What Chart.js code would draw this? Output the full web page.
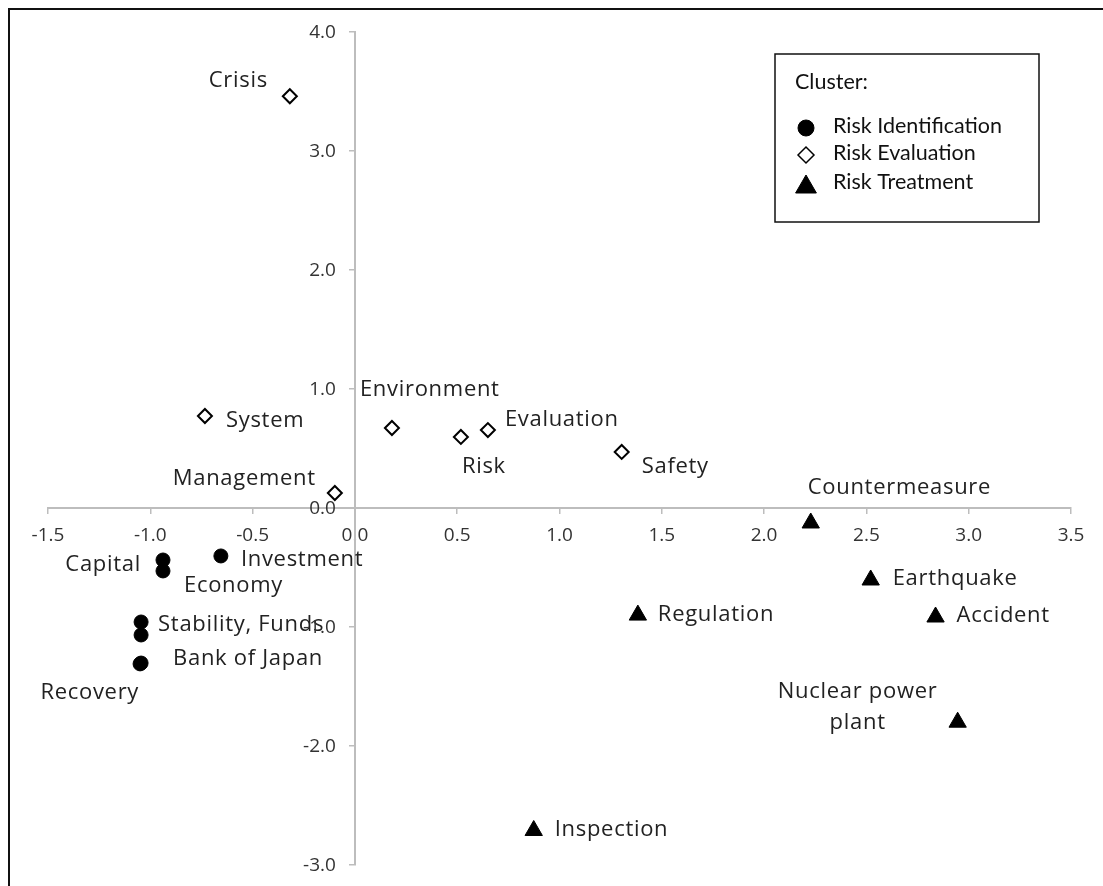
<!DOCTYPE html>
<html>
<head>
<meta charset="utf-8">
<script src="https://cdn.jsdelivr.net/npm/chart.js@4.4.1/dist/chart.umd.min.js"></script>
<style>
  html, body { margin: 0; padding: 0; background: #fff; }
  #wrap { position: relative; width: 1103px; height: 886px; }
  #frame { position: absolute; left: 8px; top: 8px; right: -10px; bottom: -10px; border-left: 2px solid #111; border-top: 2px solid #111; pointer-events: none; }
</style>
</head>
<body>
<div id="wrap">
  <canvas id="chart" width="1103" height="886"></canvas>
  <div id="frame"></div>
</div>
<script>
// cluster: Risk Identification
const idLabels = ["Investment", "Capital", "Economy", "Stability, Funds", "Funds", "Bank of Japan", "Recovery"];
const idX = [-0.655, -0.938, -0.938, -1.045, -1.045, -1.045, -1.050];
const idY = [-0.403, -0.437, -0.529, -0.958, -1.067, -1.303, -1.310];

// cluster: Risk Evaluation
const evLabels = ["Crisis", "System", "Management", "Environment", "Risk", "Evaluation", "Safety"];
const evX = [-0.318, -0.733, -0.098, 0.181, 0.518, 0.650, 1.304];
const evY = [3.46, 0.773, 0.126, 0.672, 0.597, 0.655, 0.471];

// cluster: Risk Treatment
const trLabels = ["Countermeasure", "Earthquake", "Accident", "Nuclear power plant", "Regulation", "Inspection"];
const trX = [2.228, 2.521, 2.838, 2.946, 1.383, 0.874];
const trY = [-0.126, -0.605, -0.916, -1.80, -0.90, -2.71];

const clusterNames = ["Risk Identification", "Risk Evaluation", "Risk Treatment"];
const xTicks = [-1.5, -1.0, -0.5, 0.0, 0.5, 1.0, 1.5, 2.0, 2.5, 3.0, 3.5];
const yTicks = [-3.0, -2.0, -1.0, 0.0, 1.0, 2.0, 3.0, 4.0];

function toPoints(xs, ys) {
  return xs.map((x, i) => ({ x: x, y: ys[i] }));
}

// where each word sits next to its marker: [align, dx, dy]
const labelPos = {
  "Crisis": ["right", -22, -16],
  "System": ["left", 21, 5],
  "Management": ["right", -19, -14],
  "Environment": ["left", -32, -38],
  "Risk": ["left", 1, 30],
  "Evaluation": ["left", 17, -10],
  "Safety": ["left", 20, 15],
  "Investment": ["left", 20, 4],
  "Capital": ["right", -22, 5],
  "Economy": ["left", 21, 15],
  "Stability, Funds": ["left", 17, 3],
  "Bank of Japan": ["left", 32, -4],
  "Recovery": ["right", -1, 29],
  "Countermeasure": ["left", -3, -35],
  "Earthquake": ["left", 22, -1],
  "Accident": ["left", 21, -1],
  "Regulation": ["left", 20, 0],
  "Inspection": ["left", 21, -1],
  "Nuclear power plant": ["center", -100, -30]
};

const pointLabels = {
  id: "pointLabels",
  afterDatasetsDraw(chart) {
    const ctx = chart.ctx;
    ctx.save();
    ctx.font = "22px 'Open Sans'";
    ctx.letterSpacing = "0.7px";
    ctx.fillStyle = "#222";
    ctx.textBaseline = "middle";
    chart.data.datasets.forEach((ds, di) => {
      const meta = chart.getDatasetMeta(di);
      meta.data.forEach((pt, i) => {
        const name = ds.names[i];
        const pos = labelPos[name];
        if (!pos) return;
        ctx.textAlign = pos[0];
        if (name === "Nuclear power plant") {
          ctx.fillText("Nuclear power", pt.x + pos[1], pt.y + pos[2]);
          ctx.fillText("plant", pt.x + pos[1], pt.y + pos[2] + 31);
        } else {
          ctx.fillText(name, pt.x + pos[1], pt.y + pos[2]);
        }
      });
    });
    ctx.restore();
  }
};

// y tick labels sit left of the centred axis
const yTickLabels = {
  id: "yTickLabels",
  afterDraw(chart) {
    const ys = chart.scales.y, xs = chart.scales.x;
    const ctx = chart.ctx;
    const x0 = xs.getPixelForValue(0);
    ctx.save();
    ctx.font = "19px 'Open Sans'";
    ctx.fillStyle = "#333";
    ctx.textAlign = "right";
    ctx.textBaseline = "middle";
    yTicks.forEach(v => {
      ctx.fillText(v.toFixed(1), x0 - 19, ys.getPixelForValue(v) + 1);
    });
    ctx.restore();
  }
};

const clusterBox = {
  id: "clusterBox",
  afterDraw(chart) {
    const ctx = chart.ctx;
    ctx.save();
    ctx.fillStyle = "#fff";
    ctx.fillRect(775, 54, 264, 168);
    ctx.strokeStyle = "#111";
    ctx.lineWidth = 1.5;
    ctx.strokeRect(775, 54, 264, 168);
    ctx.fillStyle = "#111";
    ctx.font = "21.5px Lato";
    ctx.textAlign = "left";
    ctx.textBaseline = "middle";
    ctx.fillText("Cluster:", 795, 82);
    const ys = [128, 155, 184];
    const styles = [
      { pointStyle: "circle", radius: 8, borderWidth: 1 },
      { pointStyle: "rectRot", radius: 8, borderWidth: 1.5 },
      { pointStyle: "triangle", radius: 12, borderWidth: 1 }
    ];
    const fills = ["#000", "#fff", "#000"];
    clusterNames.forEach((nm, i) => {
      ctx.fillStyle = fills[i];
      ctx.strokeStyle = "#000";
      ctx.lineWidth = styles[i].borderWidth;
      Chart.helpers.drawPoint(ctx, styles[i], 806, ys[i] + (i === 2 ? 3 : 0));
      ctx.fillStyle = "#111";
      ctx.fillText(nm, 833, ys[i] - 2);
    });
    ctx.restore();
  }
};

new Chart(document.getElementById("chart").getContext("2d"), {
  type: "scatter",
  data: {
    datasets: [
      {
        label: clusterNames[0],
        names: idLabels,
        data: toPoints(idX, idY),
        pointStyle: "circle",
        pointRadius: 7,
        backgroundColor: "#000",
        borderColor: "#000",
        borderWidth: 1
      },
      {
        label: clusterNames[1],
        names: evLabels,
        data: toPoints(evX, evY),
        pointStyle: "rectRot",
        pointRadius: 7,
        backgroundColor: "#fff",
        borderColor: "#000",
        borderWidth: 2
      },
      {
        label: clusterNames[2],
        names: trLabels,
        data: toPoints(trX, trY),
        pointStyle: "triangle",
        pointRadius: 10,
        backgroundColor: "#000",
        borderColor: "#000",
        borderWidth: 1
      }
    ]
  },
  options: {
    responsive: false,
    animation: false,
    layout: { padding: { left: 48, right: 32, top: 32, bottom: 21 } },
    plugins: {
      legend: { display: false },
      tooltip: { enabled: false }
    },
    scales: {
      x: {
        type: "linear",
        position: { y: 0 },
        min: -1.5,
        max: 3.5,
        afterBuildTicks: (s) => { s.ticks = xTicks.map(v => ({ value: v })); },
        ticks: {
          color: "#333",
          font: { family: "'Open Sans'", size: 19 },
          padding: 11,
          maxRotation: 0,
          callback: (v) => Number(v).toFixed(1)
        },
        grid: { drawOnChartArea: false, tickLength: 5, color: "#bdbdbd", lineWidth: 1.5 },
        border: { color: "#bdbdbd", width: 2 }
      },
      y: {
        type: "linear",
        position: { x: 0 },
        min: -3,
        max: 4,
        afterBuildTicks: (s) => { s.ticks = yTicks.map(v => ({ value: v })); },
        ticks: { display: false },
        grid: { drawOnChartArea: false, tickLength: 5, color: "#bdbdbd", lineWidth: 1.5 },
        border: { color: "#bdbdbd", width: 2 }
      }
    }
  },
  plugins: [pointLabels, yTickLabels, clusterBox]
});
</script>
</body>
</html>
